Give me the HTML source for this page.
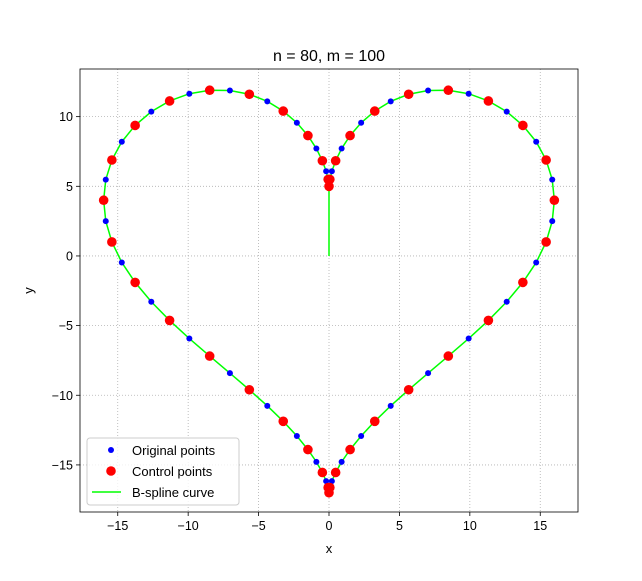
<!DOCTYPE html>
<html><head><meta charset="utf-8"><style>
body{margin:0;background:#fff;}
svg{font-family:"Liberation Sans","DejaVu Sans",sans-serif;}
</style></head><body>
<svg id="chart" width="642" height="576" viewBox="0 0 642 576" xmlns="http://www.w3.org/2000/svg"></svg>
<script>
const origX=[0,.008,.061,.203,.472,.897,1.497,2.282,3.249,4.382,5.657,7.035,8.472,9.916,11.318,12.618,13.765,14.712,15.417,15.851,16,15.851,15.417,14.712,13.765,12.618,11.318,9.916,8.472,7.035,5.657,4.382,3.249,2.282,1.497,.897,.472,.203,.061,.008,0,
-.008,-.061,-.203,-.472,-.897,-1.497,-2.282,-3.249,-4.382,-5.657,-7.035,-8.472,-9.916,-11.318,-12.618,-13.765,-14.712,-15.417,-15.851,-16,-15.851,-15.417,-14.712,-13.765,-12.618,-11.318,-9.916,-8.472,-7.035,-5.657,-4.382,-3.249,-2.282,-1.497,-.897,-.472,-.203,-.061,-.008];
const origY=[5,5.126,5.494,6.077,6.834,7.710,8.640,9.559,10.399,11.099,11.606,11.880,11.897,11.645,11.125,10.359,9.371,8.200,6.887,5.475,4,2.499,1.005,-.466,-1.899,-3.287,-4.629,-5.929,-7.189,-8.414,-9.606,-10.761,-11.871,-12.923,-13.900,-14.782,-15.542,-16.163,-16.622,-16.904,-17,
-16.904,-16.622,-16.163,-15.542,-14.782,-13.900,-12.923,-11.871,-10.761,-9.606,-8.414,-7.189,-5.929,-4.629,-3.287,-1.899,-.466,1.005,2.499,4,5.475,6.887,8.200,9.371,10.359,11.125,11.645,11.897,11.880,11.606,11.099,10.399,9.559,8.640,7.710,6.834,6.077,5.494,5.126];
const ctrlX=[0,.061,.472,1.497,3.249,5.657,8.472,11.318,13.765,15.417,16,15.417,13.765,11.318,8.472,5.657,3.249,1.497,.472,.061,0,-.061,-.472,-1.497,-3.249,-5.657,-8.472,-11.318,-13.765,-15.417,-16,-15.417,-13.765,-11.318,-8.472,-5.657,-3.249,-1.497,-.472,-.061];
const ctrlY=[5,5.494,6.834,8.640,10.399,11.606,11.897,11.125,9.371,6.887,4,1.005,-1.899,-4.629,-7.189,-9.606,-11.871,-13.900,-15.542,-16.622,-17,-16.622,-15.542,-13.900,-11.871,-9.606,-7.189,-4.629,-1.899,1.005,4,6.887,9.371,11.125,11.897,11.606,10.399,8.640,6.834,5.494];
const curveEndX=[0,0];
const curveEndY=[5,0];
const xTicks=[-15,-10,-5,0,5,10,15];
const yTicks=[-15,-10,-5,0,5,10];

const L=80,R=578,T=69,B=512;
const xMin=-17.68,xMax=17.68,yMin=-18.38,yMax=13.42;
const sx=v=>L+(v-xMin)/(xMax-xMin)*(R-L);
const sy=v=>B-(v-yMin)/(yMax-yMin)*(B-T);
const svg=document.getElementById('chart');
const NS='http://www.w3.org/2000/svg';
function mk(tag,attrs,parent){const e=document.createElementNS(NS,tag);for(const k in attrs)e.setAttribute(k,attrs[k]);(parent||svg).appendChild(e);return e;}

// grid
xTicks.forEach(t=>{
 const g=mk('line',{x1:sx(t),x2:sx(t),y1:T,y2:B,stroke:'#b0b0b0','stroke-width':0.8,'stroke-dasharray':'1,2'});
 
 
});
yTicks.forEach(t=>{
 const g=mk('line',{x1:L,x2:R,y1:sy(t),y2:sy(t),stroke:'#b0b0b0','stroke-width':0.8,'stroke-dasharray':'1,2'});
 
 
});
// ticks and labels
xTicks.forEach(t=>{
 mk('line',{x1:sx(t),x2:sx(t),y1:B,y2:B+4,stroke:'#000','stroke-width':0.8});
 const tx=mk('text',{x:sx(t),y:B+18,'text-anchor':'middle','font-size':12.5,fill:'#000'});
 tx.textContent=t<0?'\u2212'+(-t):String(t);
 
 
});
yTicks.forEach(t=>{
 mk('line',{x1:L-4,x2:L,y1:sy(t),y2:sy(t),stroke:'#000','stroke-width':0.8});
 const tx=mk('text',{x:L-7,y:sy(t)+4.5,'text-anchor':'end','font-size':12.5,fill:'#000'});
 tx.textContent=t<0?'\u2212'+(-t):String(t);
 
 
});
// curve
let pts=origX.map((x,i)=>sx(x)+','+sy(origY[i]));
curveEndX.forEach((x,i)=>pts.push(sx(x)+','+sy(curveEndY[i])));
const curve=mk('polyline',{points:pts.join(' '),fill:'none',stroke:'#00ff00','stroke-width':1.5});


// original points
origX.forEach((x,i)=>{
 const c=mk('circle',{cx:sx(x),cy:sy(origY[i]),r:3,fill:'#0000ff'});
 
 
});
// control points
ctrlX.forEach((x,i)=>{
 const c=mk('circle',{cx:sx(x),cy:sy(ctrlY[i]),r:4.8,fill:'#ff0000'});
 
 
});
// frame
const fr=mk('rect',{x:L,y:T,width:R-L,height:B-T,fill:'none',stroke:'#000','stroke-width':0.8});


// titles
const ti=mk('text',{x:(L+R)/2,y:61,'text-anchor':'middle','font-size':16,fill:'#000'});
ti.textContent='n = 80, m = 100';


const xl=mk('text',{x:(L+R)/2,y:553,'text-anchor':'middle','font-size':13,fill:'#000'});
xl.textContent='x';


const yl=mk('text',{x:33,y:(T+B)/2,'text-anchor':'middle','font-size':13,fill:'#000',transform:'rotate(-90 33 '+((T+B)/2)+')'});
yl.textContent='y';


// legend
const lg=mk('g',{});


mk('rect',{x:87,y:438,width:152,height:67,rx:3,fill:'#fff','fill-opacity':0.8,stroke:'#ccc','stroke-width':1},lg);
const e1=mk('g',{},lg);


mk('circle',{cx:111,cy:450,r:3,fill:'#0000ff'},e1);
const t1=mk('text',{x:132,y:455,'font-size':13,fill:'#000'},e1);t1.textContent='Original points';
const e2=mk('g',{},lg);


mk('circle',{cx:111,cy:471,r:4.8,fill:'#ff0000'},e2);
const t2=mk('text',{x:132,y:476,'font-size':13,fill:'#000'},e2);t2.textContent='Control points';
const e3=mk('g',{},lg);


mk('line',{x1:92,x2:121,y1:492,y2:492,stroke:'#00ff00','stroke-width':1.5},e3);
const t3=mk('text',{x:132,y:497,'font-size':13,fill:'#000'},e3);t3.textContent='B-spline curve';
</script>
</body></html>
